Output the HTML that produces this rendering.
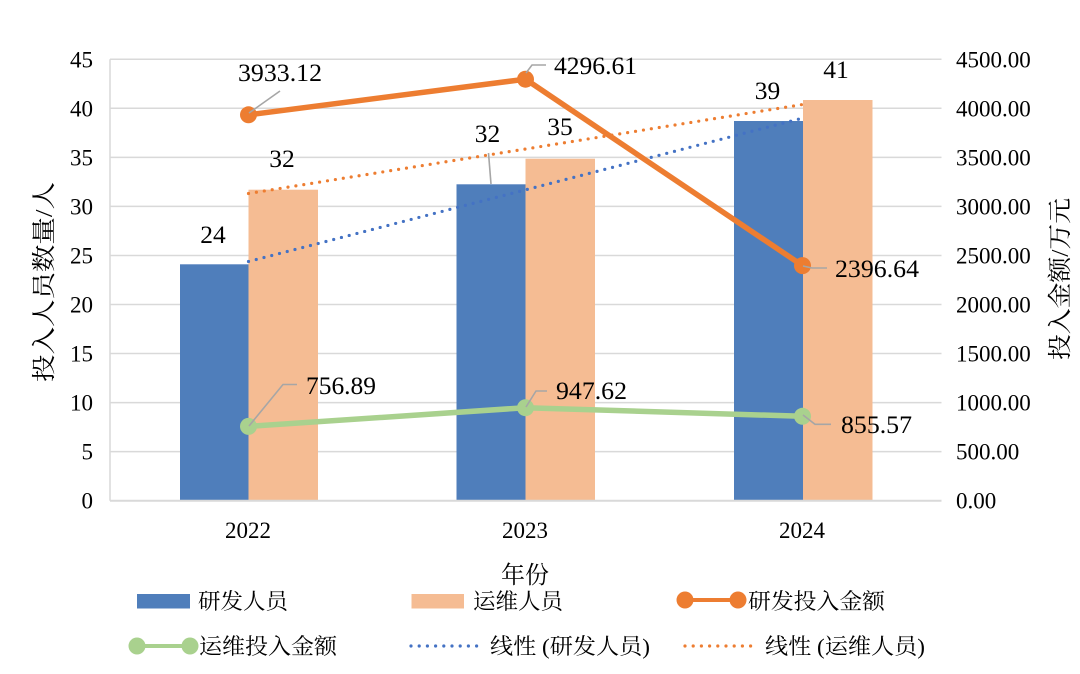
<!DOCTYPE html>
<html>
<head>
<meta charset="utf-8">
<style>
  html,body{margin:0;padding:0;background:#fff;}
  svg{display:block;}
  .num{font-family:"Liberation Serif","Noto Serif CJK SC",serif;fill:#000;}
  .cjk{font-family:"Liberation Serif","Noto Serif CJK SC","Noto Sans CJK SC",serif;fill:#000;}
</style>
</head>
<body>
<svg width="1080" height="674" viewBox="0 0 1080 674" xmlns="http://www.w3.org/2000/svg">
  <rect width="1080" height="674" fill="#fff"/>
  <!-- gridlines -->
  <g stroke="#d9d9d9" stroke-width="1.5">
    <line x1="110" y1="59.25" x2="941.5" y2="59.25"/>
    <line x1="110" y1="108.3" x2="941.5" y2="108.3"/>
    <line x1="110" y1="157.35" x2="941.5" y2="157.35"/>
    <line x1="110" y1="206.4" x2="941.5" y2="206.4"/>
    <line x1="110" y1="255.45" x2="941.5" y2="255.45"/>
    <line x1="110" y1="304.5" x2="941.5" y2="304.5"/>
    <line x1="110" y1="353.55" x2="941.5" y2="353.55"/>
    <line x1="110" y1="402.6" x2="941.5" y2="402.6"/>
    <line x1="110" y1="451.65" x2="941.5" y2="451.65"/>
    <line x1="110" y1="59.25" x2="110" y2="500.7"/>
  </g>
  <!-- bars -->
  <g>
    <rect x="180" y="264.3" width="68.5" height="236.4" fill="#4f7ebb"/>
    <rect x="248.5" y="189.7" width="69.5" height="311" fill="#f5bc93"/>
    <rect x="456.5" y="184.3" width="69" height="316.4" fill="#4f7ebb"/>
    <rect x="525.5" y="158.7" width="69.5" height="342" fill="#f5bc93"/>
    <rect x="734" y="121" width="69" height="379.7" fill="#4f7ebb"/>
    <rect x="803" y="100" width="69.5" height="400.7" fill="#f5bc93"/>
  </g>
  <!-- x axis -->
  <line x1="110" y1="500.7" x2="941.5" y2="500.7" stroke="#d9d9d9" stroke-width="2"/>
  <!-- trend lines -->
  <line x1="248.5" y1="261.5" x2="802.5" y2="118.2" stroke="#4472c4" stroke-width="3.2" stroke-linecap="round" stroke-dasharray="0 8"/>
  <line x1="248.5" y1="193.5" x2="802.5" y2="104.5" stroke="#ed7d31" stroke-width="3.2" stroke-linecap="round" stroke-dasharray="0 8"/>
  <!-- orange line -->
  <polyline points="248.5,114.8 525.5,79.2 802.5,265.6" fill="none" stroke="#ed7d31" stroke-width="5.5" stroke-linejoin="round"/>
  <g fill="#ed7d31">
    <circle cx="248.5" cy="114.8" r="8.5"/>
    <circle cx="525.5" cy="79.2" r="8.5"/>
    <circle cx="802.5" cy="265.6" r="8.5"/>
  </g>
  <!-- green line -->
  <polyline points="248.5,426.4 525.5,407.7 802.5,416.3" fill="none" stroke="#a9d18e" stroke-width="5.5" stroke-linejoin="round"/>
  <g fill="#a9d18e">
    <circle cx="248.5" cy="426.4" r="8.5"/>
    <circle cx="525.5" cy="407.7" r="8.5"/>
    <circle cx="802.5" cy="416.3" r="8.5"/>
  </g>
  <!-- leader lines -->
  <g stroke="#a6a6a6" stroke-width="1.6" fill="none">
    <polyline points="249,113 280,91"/>
    <polyline points="526,73 532,65 546,65"/>
    <polyline points="803,266 812,268 827,268"/>
    <polyline points="249,426 283,384.5 297,384.5"/>
    <polyline points="526,407 536,391 547,391"/>
    <polyline points="803,415 815,424.3 831,424.3"/>
    <polyline points="488.5,153 491,184"/>
  </g>
  <!-- data labels -->
  <g class="num" font-size="25.5">
    <text x="238" y="81" textLength="84" lengthAdjust="spacingAndGlyphs">3933.12</text>
    <text x="554" y="74" textLength="83" lengthAdjust="spacingAndGlyphs">4296.61</text>
    <text x="835" y="277" textLength="84" lengthAdjust="spacingAndGlyphs">2396.64</text>
    <text x="306" y="394" textLength="70" lengthAdjust="spacingAndGlyphs">756.89</text>
    <text x="556" y="399" textLength="71" lengthAdjust="spacingAndGlyphs">947.62</text>
    <text x="841" y="433" textLength="71" lengthAdjust="spacingAndGlyphs">855.57</text>
    <text x="213" y="243" text-anchor="middle">24</text>
    <text x="282" y="167" text-anchor="middle">32</text>
    <text x="487.5" y="142" text-anchor="middle">32</text>
    <text x="560" y="135" text-anchor="middle">35</text>
    <text x="767.5" y="99" text-anchor="middle">39</text>
    <text x="836" y="78" text-anchor="middle">41</text>
  </g>
  <!-- left ticks -->
  <g class="num" font-size="23" text-anchor="end">
    <text x="93" y="67.3">45</text>
    <text x="93" y="116.3">40</text>
    <text x="93" y="165.4">35</text>
    <text x="93" y="214.4">30</text>
    <text x="93" y="263.5">25</text>
    <text x="93" y="312.5">20</text>
    <text x="93" y="361.6">15</text>
    <text x="93" y="410.6">10</text>
    <text x="93" y="459.7">5</text>
    <text x="93" y="508.7">0</text>
  </g>
  <!-- right ticks -->
  <g class="num" font-size="23" text-anchor="start">
    <text x="956" y="67.3">4500.00</text>
    <text x="956" y="116.3">4000.00</text>
    <text x="956" y="165.4">3500.00</text>
    <text x="956" y="214.4">3000.00</text>
    <text x="956" y="263.5">2500.00</text>
    <text x="956" y="312.5">2000.00</text>
    <text x="956" y="361.6">1500.00</text>
    <text x="956" y="410.6">1000.00</text>
    <text x="956" y="459.7">500.00</text>
    <text x="956" y="508.7">0.00</text>
  </g>
  <!-- x ticks -->
  <g class="num" font-size="23" text-anchor="middle">
    <text x="248" y="538">2022</text>
    <text x="525" y="538">2023</text>
    <text x="802" y="538">2024</text>
  </g>
  <!-- axis titles -->
  <text class="cjk" font-size="24" x="525" y="583" text-anchor="middle">年份</text>
  <text class="cjk" font-size="24" transform="translate(52,282) rotate(-90)" text-anchor="middle" textLength="200" lengthAdjust="spacingAndGlyphs">投入人员数量/人</text>
  <text class="cjk" font-size="24" transform="translate(1068,279) rotate(-90)" text-anchor="middle" textLength="162" lengthAdjust="spacingAndGlyphs">投入金额/万元</text>
  <!-- legend -->
  <rect x="137" y="594" width="53" height="14.5" fill="#4f7ebb"/>
  <text class="cjk" font-size="22" x="198" y="609" textLength="90" lengthAdjust="spacingAndGlyphs">研发人员</text>
  <rect x="411.5" y="594" width="52.5" height="14.5" fill="#f5bc93"/>
  <text class="cjk" font-size="22" x="473" y="609" textLength="90" lengthAdjust="spacingAndGlyphs">运维人员</text>
  <line x1="685" y1="600" x2="738" y2="600" stroke="#ed7d31" stroke-width="4"/>
  <circle cx="685" cy="600" r="8.5" fill="#ed7d31"/>
  <circle cx="738" cy="600" r="8.5" fill="#ed7d31"/>
  <text class="cjk" font-size="22" x="748" y="609" textLength="137" lengthAdjust="spacingAndGlyphs">研发投入金额</text>

  <line x1="137" y1="646" x2="190" y2="646" stroke="#a9d18e" stroke-width="4"/>
  <circle cx="137" cy="646" r="8.5" fill="#a9d18e"/>
  <circle cx="190" cy="646" r="8.5" fill="#a9d18e"/>
  <text class="cjk" font-size="22" x="199" y="654" textLength="138" lengthAdjust="spacingAndGlyphs">运维投入金额</text>
  <line x1="411" y1="646" x2="477" y2="646" stroke="#4472c4" stroke-width="3.2" stroke-linecap="round" stroke-dasharray="0 8.2"/>
  <text class="cjk" font-size="22" x="490" y="654" textLength="160" lengthAdjust="spacingAndGlyphs">线性 (研发人员)</text>
  <line x1="685" y1="646" x2="751" y2="646" stroke="#ed7d31" stroke-width="3.2" stroke-linecap="round" stroke-dasharray="0 8.2"/>
  <text class="cjk" font-size="22" x="765" y="654" textLength="160" lengthAdjust="spacingAndGlyphs">线性 (运维人员)</text>
</svg>
</body>
</html>
